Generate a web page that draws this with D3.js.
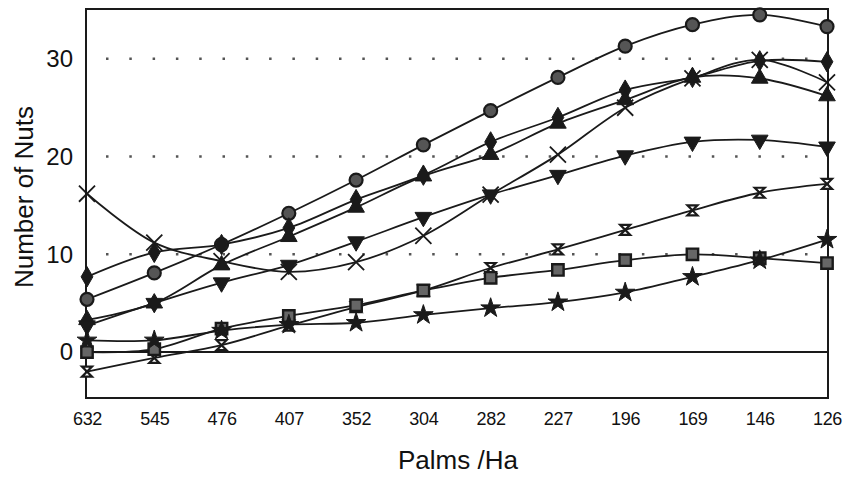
<!DOCTYPE html>
<html>
<head>
<meta charset="utf-8">
<script src="https://d3js.org/d3.v7.min.js"></script>
<style>
  body { margin: 0; background: #fff; }
</style>
</head>
<body>
<div class="canvas"></div>
<script>
// categories (palms per hectare) and tick values
const palms = ['632', '545', '476', '407', '352', '304', '282', '227', '196', '169', '146', '126'];
const yTicks = [0, 10, 20, 30];
const gridValues = [10, 20, 30];

// series values, number of nuts
const circleNuts    = [5.4, 8.1, 11.0, 14.2, 17.6, 21.2, 24.7, 28.1, 31.3, 33.5, 34.5, 33.3];
const diamondNuts   = [7.7, 10.2, 11.0, 12.7, 15.6, 18.1, 21.5, 24.0, 26.8, 28.1, 29.8, 29.7];
const triUpNuts     = [3.3, 5.0, 8.9, 11.8, 14.8, 18.0, 20.2, 23.4, 25.8, 28.1, 28.0, 26.2];
const crossNuts     = [16.2, 11.2, 9.3, 8.2, 9.2, 11.9, 16.1, 20.2, 25.0, 28.0, 29.9, 27.6];
const triDownNuts   = [2.7, 5.0, 7.1, 8.9, 11.3, 13.8, 16.1, 18.1, 20.1, 21.5, 21.7, 21.0];
const hourglassNuts = [-2.0, -0.6, 0.7, 2.7, 4.6, 6.3, 8.6, 10.5, 12.5, 14.5, 16.3, 17.2];
const squareNuts    = [0.0, 0.3, 2.4, 3.7, 4.8, 6.3, 7.6, 8.4, 9.4, 10.0, 9.6, 9.1];
const starNuts      = [1.2, 1.2, 2.2, 2.8, 3.0, 3.8, 4.5, 5.1, 6.1, 7.7, 9.4, 11.5];

const series = [
    {name: 'circle', values: circleNuts},
    {name: 'diamond', values: diamondNuts},
    {name: 'triUp', values: triUpNuts},
    {name: 'cross', values: crossNuts},
    {name: 'triDown', values: triDownNuts},
    {name: 'hourglass', values: hourglassNuts},
    {name: 'square', values: squareNuts},
    {name: 'star', values: starNuts}
];

const width = 850, height = 480;
const frame = {left: 86, right: 828, top: 9, bottom: 398};

const svg = d3.select('.canvas')
    .append('svg')
        .attr('width', width)
        .attr('height', height);

const x = d3.scalePoint()
    .domain(palms)
    .range([87, 827]);

const y = d3.scaleLinear()
    .domain([-4.7, 35.1])
    .range([frame.bottom, frame.top]);

const font = 'Liberation Sans, Arial, sans-serif';

// dotted grid lines
svg.selectAll('line.grid')
    .data(gridValues)
    .enter()
    .append('line')
    .attr('class', 'grid')
    .attr('x1', 106)
    .attr('x2', frame.right)
    .attr('y1', d => y(d))
    .attr('y2', d => y(d))
    .attr('stroke', '#555')
    .attr('stroke-width', 2.5)
    .attr('stroke-dasharray', '2.5,20.8');

// zero line
svg.append('line')
    .attr('x1', frame.left)
    .attr('x2', frame.right)
    .attr('y1', y(0))
    .attr('y2', y(0))
    .attr('stroke', '#1a1a1a')
    .attr('stroke-width', 2);

// frame
svg.append('rect')
    .attr('x', frame.left)
    .attr('y', frame.top)
    .attr('width', frame.right - frame.left)
    .attr('height', frame.bottom - frame.top)
    .attr('fill', 'none')
    .attr('stroke', '#1a1a1a')
    .attr('stroke-width', 2);

// axes - only labels, no tick marks
const xAxis = d3.axisBottom(x).tickSize(0).tickPadding(0);
svg.append('g')
    .attr('transform', `translate(0, 412)`)
    .call(xAxis)
    .call(g => g.select('.domain').remove())
    .selectAll('text')
        .attr('font-family', font)
        .attr('font-size', 18)
        .attr('fill', '#111')
        .attr('letter-spacing', '-0.3px');

const yAxis = d3.axisLeft(y).tickValues(yTicks).tickSize(0).tickPadding(0);
svg.append('g')
    .attr('transform', `translate(73, 0)`)
    .call(yAxis)
    .call(g => g.select('.domain').remove())
    .selectAll('text')
        .attr('font-family', font)
        .attr('font-size', 24)
        .attr('fill', '#111');

// axis titles
svg.append('text')
    .attr('x', 458)
    .attr('y', 469)
    .attr('text-anchor', 'middle')
    .attr('font-family', font)
    .attr('font-size', 26)
    .attr('fill', '#111')
    .text('Palms /Ha');

svg.append('text')
    .attr('transform', 'translate(33, 197) rotate(-90)')
    .attr('text-anchor', 'middle')
    .attr('font-family', font)
    .attr('font-size', 26)
    .attr('fill', '#111')
    .text('Number of Nuts');

// lines
const line = d3.line()
    .x((d, i) => x(palms[i]))
    .y(d => y(d))
    .curve(d3.curveCatmullRom.alpha(0.5));

svg.selectAll('path.series')
    .data(series)
    .enter()
    .append('path')
    .attr('class', 'series')
    .attr('fill', 'none')
    .attr('stroke', '#1a1a1a')
    .attr('stroke-width', 1.8)
    .attr('d', d => line(d.values));

// marker shapes
const hourglassPath = s => `M${-s},${-s}H${s}L${-s},${s}H${s}Z`;
const markerDefs = {
    circle:    {d: null, fill: '#555', stroke: '#1a1a1a', sw: 2.2},
    diamond:   {d: d3.symbol(d3.symbolDiamond, 120)(), fill: '#1a1a1a', stroke: '#1a1a1a', sw: 1},
    triUp:     {d: d3.symbol(d3.symbolTriangle, 120)(), fill: '#1a1a1a', stroke: '#1a1a1a', sw: 1},
    cross:     {d: d3.symbol(d3.symbolTimes, 170)(), fill: 'none', stroke: '#1a1a1a', sw: 1.8},
    triDown:   {d: d3.symbol(d3.symbolTriangle, 120)(), fill: '#1a1a1a', stroke: '#1a1a1a', sw: 1, rot: 180},
    hourglass: {d: hourglassPath(5), fill: '#fff', stroke: '#1a1a1a', sw: 2.2},
    square:    {d: d3.symbol(d3.symbolSquare, 130)(), fill: '#666', stroke: '#1a1a1a', sw: 2.4},
    star:      {d: d3.symbol(d3.symbolStar, 120)(), fill: '#1a1a1a', stroke: '#1a1a1a', sw: 1}
};

series.forEach(s => {
    const m = markerDefs[s.name];
    const pts = s.values.map((v, i) => ({px: x(palms[i]), py: y(v)}));
    if (s.name === 'circle') {
        svg.selectAll(null)
            .data(pts)
            .enter()
            .append('circle')
            .attr('cx', d => d.px)
            .attr('cy', d => d.py)
            .attr('r', 6.5)
            .attr('fill', m.fill)
            .attr('stroke', m.stroke)
            .attr('stroke-width', m.sw);
    } else {
        svg.selectAll(null)
            .data(pts)
            .enter()
            .append('path')
            .attr('d', m.d)
            .attr('transform', d => `translate(${d.px}, ${d.py})` + (m.rot ? ` rotate(${m.rot})` : ''))
            .attr('fill', m.fill)
            .attr('stroke', m.stroke)
            .attr('stroke-width', m.sw);
    }
});
</script>
</body>
</html>
